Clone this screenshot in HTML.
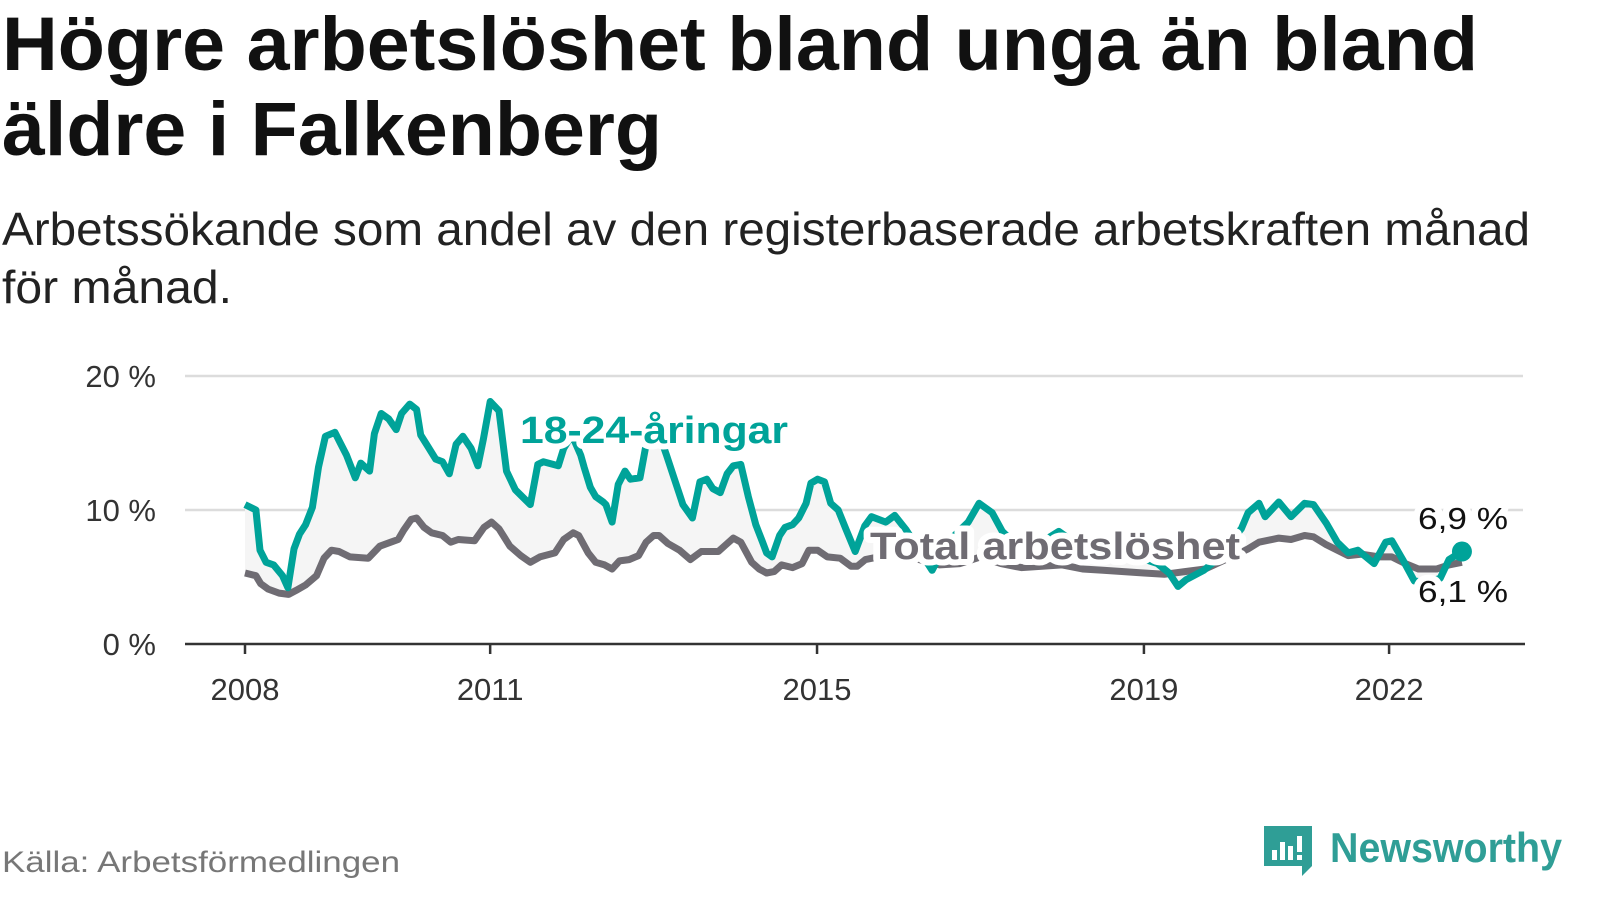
<!DOCTYPE html>
<html><head><meta charset="utf-8"><style>
html,body{margin:0;padding:0;background:#fff;}
svg{display:block;font-family:"Liberation Sans",sans-serif;}
.halo{paint-order:stroke;stroke:#fff;stroke-width:12px;stroke-linejoin:round;}
</style></head><body>
<svg id="chart" width="1600" height="900" viewBox="0 0 1600 900" xmlns="http://www.w3.org/2000/svg">
<text x="2" y="70" font-size="76" font-weight="bold" fill="#111" textLength="1476" lengthAdjust="spacingAndGlyphs">Högre arbetslöshet bland unga än bland</text>
<text x="2" y="155" font-size="76" font-weight="bold" fill="#111" textLength="660" lengthAdjust="spacingAndGlyphs">äldre i Falkenberg</text>
<text x="2" y="245" font-size="46" fill="#222" textLength="1528" lengthAdjust="spacingAndGlyphs">Arbetssökande som andel av den registerbaserade arbetskraften månad</text>
<text x="2" y="303" font-size="46" fill="#222" textLength="230" lengthAdjust="spacingAndGlyphs">för månad.</text>
<g id="grid"></g>
<path id="band" fill="#f5f5f5"></path>
<g id="lines"></g>
<g id="labels"></g>
<text x="2" y="872" font-size="30" fill="#777" textLength="398" lengthAdjust="spacingAndGlyphs">Källa: Arbetsförmedlingen</text>
<g>
<path d="M1264 826 h48 v40 l-10 10 v-10 h-38 z" fill="#2f9e96"/>
<rect x="1272" y="850" width="5" height="10" fill="#fff"/><rect x="1280" y="842" width="5" height="18" fill="#fff"/><rect x="1288" y="846" width="5" height="14" fill="#fff"/><rect x="1297" y="836" width="5" height="16" fill="#fff"/><rect x="1297" y="855" width="5" height="5" fill="#fff"/>
<text x="1330" y="862" font-size="42" font-weight="bold" fill="#2f9e96" textLength="232" lengthAdjust="spacingAndGlyphs">Newsworthy</text>
</g>
</svg>
<script>
const youthMonths=[0,1.6,2.2,3.1,4.2,5.5,6.3,7.2,8,8.9,9.9,10.8,11.8,13.2,14,14.9,16.2,17,18.3,19,20,21.1,22.2,23,24.2,25.2,25.8,26.9,28,29,30,31,32,33.2,34.2,35,36,37.3,38.4,39.7,41.9,43,43.8,46,46.8,48,49.3,49.8,50.7,51.5,52.6,53,53.9,54.8,55.8,56.6,58,58.8,60,61,61.9,63,64.3,65.7,66.8,67.8,68.7,69.8,70.8,71.7,72.8,73.9,75,76,76.6,77.4,78.5,79.3,80.4,81.3,82.4,83.1,84.1,85.1,86,87.1,88.3,89.6,91,92,94.1,95.4,97.1,99,100.9,103,105,106.2,107.8,109.7,111.2,113,116,119.5,122,125,128,131,134,135.7,137,138.2,140.8,142,144,145,146.3,147.3,148.9,149.8,151.8,153.6,155.6,156.9,158.8,160.4,162,163.4,165.8,167.5,168.4,170,171.7,173.5,175.5,176.8,178.7];
const youthValues=[10.4,10.0,7.0,6.1,5.9,5.1,4.2,7.1,8.2,8.9,10.2,13.2,15.5,15.8,15.0,14.1,12.4,13.5,12.9,15.7,17.2,16.8,16.0,17.2,17.9,17.5,15.6,14.7,13.8,13.6,12.7,14.9,15.5,14.6,13.3,15.3,18.1,17.4,12.9,11.5,10.4,13.4,13.6,13.3,14.6,15.6,14.1,13.2,11.7,11.0,10.6,10.4,9.1,11.9,12.9,12.3,12.4,14.6,15.6,15.4,14.1,12.4,10.4,9.4,12.1,12.3,11.6,11.3,12.7,13.3,13.4,11.0,8.9,7.6,6.8,6.5,8.1,8.7,8.9,9.4,10.5,12.0,12.3,12.1,10.5,10.0,8.5,6.9,8.8,9.5,9.1,9.6,8.5,7.0,5.5,7.5,8.5,9.1,10.5,9.8,8.4,7.5,7.3,8.4,7.5,7.0,6.8,6.5,6.0,5.3,4.3,4.8,5.5,6.0,7.0,7.8,8.6,9.8,10.5,9.5,10.6,9.5,10.5,10.4,9.0,7.6,6.8,7.0,6.0,7.6,7.7,6.3,4.7,4.6,4.9,6.3,6.9];
const totalMonths=[0,1.6,2.3,3.4,5,6.4,7.5,8.9,10.5,11.6,12.7,13.8,15.4,18.1,19.8,21.4,22.5,23.3,24.4,25.2,26.3,27.4,29,30.2,31.3,33.7,35.1,36.2,37.3,38.9,40.5,41.9,43.3,45.5,46.8,48.2,49,50.4,51.5,52.8,53.9,55,56.4,57.8,58.9,60,60.8,62.1,63.8,65.4,67,69.5,70.6,71.7,72.8,74.4,75.5,76.6,77.7,78.8,80.4,81.8,82.8,84.1,85.5,87.4,89,89.9,91.1,93,96,99,102,105,108,111,114,117,120,123,126,129,132,135,138,141,144,146,147.3,148.9,151.8,153.6,155.6,156.9,158.8,162,164,166.6,168.4,170.4,172.3,175,176.8,178.7];
const totalValues=[5.3,5.1,4.5,4.1,3.8,3.7,4.0,4.4,5.1,6.4,7.0,6.9,6.5,6.4,7.3,7.6,7.8,8.5,9.3,9.4,8.7,8.3,8.1,7.6,7.8,7.7,8.7,9.1,8.6,7.3,6.6,6.1,6.5,6.8,7.8,8.3,8.1,6.8,6.1,5.9,5.6,6.2,6.3,6.6,7.6,8.1,8.1,7.5,7.0,6.3,6.9,6.9,7.4,7.9,7.6,6.1,5.6,5.3,5.4,5.9,5.7,6.0,7.0,7.0,6.5,6.4,5.8,5.8,6.3,6.5,6.7,6.3,5.9,6.0,6.5,6.0,5.7,5.8,5.9,5.6,5.5,5.4,5.3,5.2,5.4,5.6,6.3,6.8,7.1,7.6,7.9,7.8,8.1,8.0,7.4,6.6,6.7,6.5,6.5,6.0,5.6,5.6,5.9,6.1];
const yTicks=[0,10,20];
const yTickLabels=["0 %","10 %","20 %"];
const xTickYears=[2008,2011,2015,2019,2022];
const lastYouthLabel="6,9 %";
const lastTotalLabel="6,1 %";

const NS="http://www.w3.org/2000/svg";
const X0=245, PXM=6.81, Y0=644, PXV=13.4;
function xMonth(m){return X0+m*PXM;}
function xYear(y){return X0+(y-2008)*12*PXM;}
function yVal(v){return Y0-v*PXV;}
function mk(tag,attrs,parent){const e=document.createElementNS(NS,tag);for(const k in attrs)e.setAttribute(k,attrs[k]);parent.appendChild(e);return e;}

const grid=document.getElementById('grid');
yTicks.forEach((t,i)=>{
  if(t>0){const l=mk('line',{x1:185,x2:1523,y1:yVal(t),y2:yVal(t),stroke:'#dcdcdc','stroke-width':2.5},grid);
  
  }
  const tx=mk('text',{x:156,y:yVal(t)+11,'font-size':31,fill:'#333','text-anchor':'end'},grid);
  tx.textContent=yTickLabels[i];
  
  
});
const ax=mk('line',{x1:185,x2:1525,y1:Y0,y2:Y0,stroke:'#333','stroke-width':2.5},grid);


xTickYears.forEach(y=>{
  const tk=mk('line',{x1:xYear(y),x2:xYear(y),y1:Y0,y2:Y0+10,stroke:'#333','stroke-width':2.5},grid);
  
  
  const tx=mk('text',{x:xYear(y),y:700,'font-size':31,fill:'#333','text-anchor':'middle'},grid);
  tx.textContent=y;
  
  
});

function pts(ms,vs){return ms.map((m,i)=>xMonth(m).toFixed(1)+','+yVal(vs[i]).toFixed(1));}
const yp=pts(youthMonths,youthValues), tp=pts(totalMonths,totalValues);
document.getElementById('band').setAttribute('d','M'+yp.join(' L')+' L'+tp.slice().reverse().join(' L')+' Z');

const lines=document.getElementById('lines');
const tl=mk('polyline',{points:tp.join(' '),fill:'none',stroke:'#6f6c73','stroke-width':7,'stroke-linejoin':'round'},lines);


const yl=mk('polyline',{points:yp.join(' '),fill:'none',stroke:'#00a399','stroke-width':7,'stroke-linejoin':'round'},lines);


const lm=youthMonths[youthMonths.length-1], lv=youthValues[youthValues.length-1];
const dot=mk('circle',{cx:xMonth(lm),cy:yVal(lv),r:10,fill:'#00a399'},lines);



const labels=document.getElementById('labels');
const l1=mk('text',{x:520,y:443,'font-size':38,'font-weight':'bold',fill:'#00a399',class:'halo',textLength:268,lengthAdjust:'spacingAndGlyphs'},labels);
l1.textContent='18-24-åringar';


const l2=mk('text',{x:870,y:559,'font-size':38,'font-weight':'bold',fill:'#6f6c73',class:'halo',textLength:370,lengthAdjust:'spacingAndGlyphs'},labels);
l2.textContent='Total arbetslöshet';


const v1=mk('text',{x:1418,y:529,'font-size':31,fill:'#111',class:'halo',textLength:90,lengthAdjust:'spacingAndGlyphs'},labels);
v1.textContent=lastYouthLabel;


const v2=mk('text',{x:1418,y:602,'font-size':31,fill:'#111',class:'halo',textLength:90,lengthAdjust:'spacingAndGlyphs'},labels);
v2.textContent=lastTotalLabel;


</script>
</body></html>
